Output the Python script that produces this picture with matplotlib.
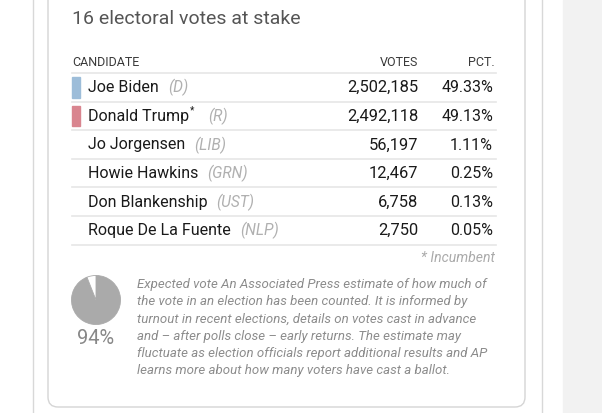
import matplotlib
matplotlib.use("Agg")
import matplotlib.pyplot as plt
from matplotlib.patches import Rectangle, FancyBboxPatch

candidates = ["Joe Biden", "Donald Trump*", "Jo Jorgensen", "Howie Hawkins", "Don Blankenship", "Roque De La Fuente"]
parties = ["(D)", "(R)", "(LIB)", "(GRN)", "(UST)", "(NLP)"]
votes = [2502185, 2492118, 56197, 12467, 6758, 2750]
pcts = [49.33, 49.13, 1.11, 0.25, 0.13, 0.05]
party_colors = {"(D)": "#9dbdd9", "(R)": "#d9858f"}
expected_vote = 94
title = "16 electoral votes at stake"
headers = ["CANDIDATE", "VOTES", "PCT."]
note = ("Expected vote An Associated Press estimate of how much of\n"
        "the vote in an election has been counted. It is informed by\n"
        "turnout in recent elections, details on votes cast in advance\n"
        "and \u2013 after polls close \u2013 early returns. The estimate may\n"
        "fluctuate as election officials report additional results and AP\n"
        "learns more about how many voters have cast a ballot.")

FONT = "Roboto"
W, H = 602, 413
fig = plt.figure(figsize=(W / 100, H / 100), dpi=100)
ax = fig.add_axes([0, 0, 1, 1])
ax.set_xlim(0, W)
ax.set_ylim(H, 0)
ax.axis("off")

def pt(px):
    return px * 0.72

# background elements
ax.add_patch(Rectangle((563, 0), W - 563, H, color="#f2f2f2", zorder=0))
ax.plot([33, 33], [0, H], color="#d8d8d8", lw=1)
ax.plot([542, 542], [0, H], color="#d8d8d8", lw=1)
ax.add_patch(FancyBboxPatch((48, -40), 477, 447, boxstyle="round,pad=0,rounding_size=10",
                            fc="white", ec="#d5d5d5", lw=1, zorder=1))

# title
ax.text(72, 19, title, fontsize=pt(19.5), color="#555555", family=FONT, va="center", ha="left", zorder=3)

# header
hy = 63
ax.text(72, hy, headers[0], fontsize=pt(12.5), color="#3a3a3a", family=FONT, va="center", ha="left", zorder=3)
ax.text(418, hy, headers[1], fontsize=pt(12.5), color="#3a3a3a", family=FONT, va="center", ha="right", zorder=3)
ax.text(495, hy, headers[2], fontsize=pt(12.5), color="#3a3a3a", family=FONT, va="center", ha="right", zorder=3)
ax.plot([72, 496], [73, 73], color="#e6e6e6", lw=1.2, zorder=2)

row_h = 28.6
y0 = 73
for i, (c, p, v, pc) in enumerate(zip(candidates, parties, votes, pcts)):
    top = y0 + i * row_h
    cy = top + row_h / 2 + 0.5
    if p in party_colors:
        ax.add_patch(Rectangle((72, top + 4), 7.5, row_h - 8, color=party_colors[p], zorder=3))
    name_x = 88
    if c.endswith("*"):
        t = ax.text(name_x, cy, c[:-1], fontsize=pt(16), color="#1a1a1a", family=FONT, va="center", ha="left", zorder=3)
        fig.canvas.draw()
        bb = t.get_window_extent().transformed(ax.transData.inverted())
        ax.text(bb.x1 + 0.5, cy - 6, "*", fontsize=pt(10), color="#1a1a1a", family=FONT, va="center", ha="left", zorder=3)
        end = bb.x1 + 5
    else:
        t = ax.text(name_x, cy, c, fontsize=pt(16), color="#1a1a1a", family=FONT, va="center", ha="left", zorder=3)
        fig.canvas.draw()
        bb = t.get_window_extent().transformed(ax.transData.inverted())
        end = bb.x1
    gap = 14 if c.endswith("*") else 9
    ax.text(end + gap, cy, p, fontsize=pt(15.5), color="#b0b0b0", family=FONT, style="italic",
            va="center", ha="left", zorder=3)
    ax.text(418, cy, f"{v:,}", fontsize=pt(16.5), color="#1a1a1a", family=FONT, va="center", ha="right", zorder=3)
    ax.text(493, cy, f"{pc:.2f}%", fontsize=pt(16), color="#1a1a1a", family=FONT, va="center", ha="right", zorder=3)
    ax.plot([72, 496], [top + row_h, top + row_h], color="#e6e6e6", lw=1.2, zorder=2)

ax.text(495, 258, "* Incumbent", fontsize=pt(14), color="#aaaaaa", family=FONT, style="italic",
        va="center", ha="right", zorder=3)

# pie
r = 25
cx, cyp = 96, 300
pax = fig.add_axes([(cx - r) / W, 1 - (cyp + r) / H, 2 * r / W, 2 * r / H])
pax.pie([expected_vote, 100 - expected_vote], startangle=90, counterclock=False,
        colors=["#aaaaaa", "#ffffff"], wedgeprops=dict(linewidth=0.6, edgecolor="#aaaaaa"))
pax.set_xlim(-1.02, 1.02)
pax.set_ylim(-1.02, 1.02)
pax.set_aspect("equal")
pax.axis("off")
ax.text(cx, 338, f"{expected_vote}%", fontsize=pt(20), color="#888888", family=FONT, va="center", ha="center", zorder=3)

ax.text(137, 278, note, fontsize=pt(13.2), color="#8c8c8c", family=FONT, style="italic",
        va="top", ha="left", linespacing=1.42, zorder=3)

fig.savefig("out.png", dpi=100)
